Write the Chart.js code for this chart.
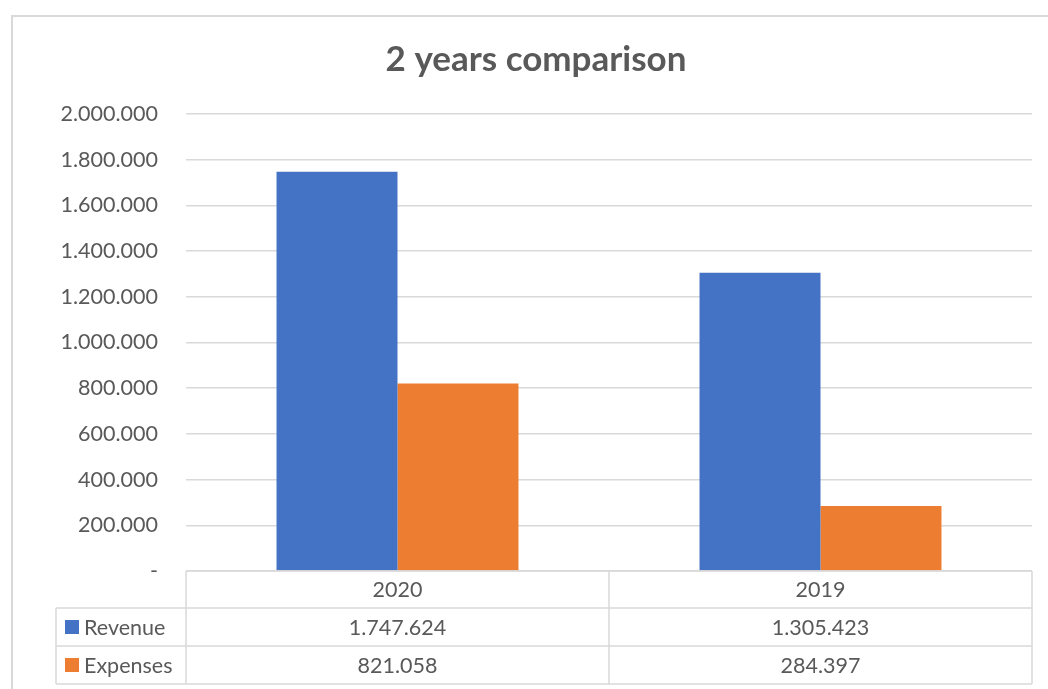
<!DOCTYPE html>
<html>
<head>
<meta charset="utf-8">
<script src="https://cdn.jsdelivr.net/npm/chart.js@4.4.1/dist/chart.umd.min.js"></script>
<style>
  html, body { margin: 0; padding: 0; background: #fff; overflow: hidden; }
  #wrap { width: 1048px; height: 689px; }
</style>
</head>
<body>
<div id="wrap"><canvas id="barChart" width="1048" height="689"></canvas></div>
<script>
"use strict";
var categories = ['2020', '2019'];
var revenue = [1747624, 1305423];
var expenses = [821058, 284397];
var seriesNames = ['Revenue', 'Expenses'];
var seriesColors = ['#4472c4', '#ed7d31'];

var FONT = 'Lato, "Open Sans", sans-serif';
var TEXT = '#595959';
var LINE = '#d9d9d9';

function fmt(v) {
    if (v === 0) return '-';
    return String(Math.round(v)).replace(/\B(?=(\d{3})+(?!\d))/g, '.');
}

/* frame around the whole chart + data table under the plot */
var tablePlugin = {
    id: 'dataTable',
    beforeDraw: function(chart) {
        var ctx = chart.ctx;
        ctx.save();
        ctx.fillStyle = '#fff';
        ctx.fillRect(0, 0, chart.width, chart.height);
        ctx.strokeStyle = LINE;
        ctx.lineWidth = 2;
        ctx.strokeRect(12, 16, chart.width + 20, chart.height + 20);
        ctx.restore();
    },
    afterDraw: function(chart) {
        var ctx = chart.ctx;
        var area = chart.chartArea;
        var xs = chart.scales.x;
        var left = area.left, right = area.right;
        var labelLeft = 56;
        var rowTops = [area.bottom, area.bottom + 37, area.bottom + 75, area.bottom + 113];
        var colEdges = [left];
        for (var i = 0; i < categories.length; i++) {
            var c = xs.getPixelForValue(i);
            colEdges.push(c + (c - colEdges[i]));
        }
        ctx.save();
        ctx.strokeStyle = LINE;
        ctx.lineWidth = 1.5;
        ctx.beginPath();
        // horizontal lines
        ctx.moveTo(left, rowTops[0]); ctx.lineTo(right, rowTops[0]);
        for (var r = 1; r < rowTops.length; r++) {
            ctx.moveTo(labelLeft, rowTops[r]); ctx.lineTo(right, rowTops[r]);
        }
        // vertical lines
        ctx.moveTo(labelLeft, rowTops[1]); ctx.lineTo(labelLeft, rowTops[3]);
        for (var e = 0; e < colEdges.length; e++) {
            ctx.moveTo(colEdges[e], rowTops[0]); ctx.lineTo(colEdges[e], rowTops[3]);
        }
        ctx.moveTo(right, rowTops[0]); ctx.lineTo(right, rowTops[3]);
        ctx.stroke();

        ctx.fillStyle = TEXT;
        ctx.font = '21.5px ' + FONT;
        ctx.textBaseline = 'middle';
        ctx.textAlign = 'center';
        var rows = [revenue, expenses];
        for (var k = 0; k < categories.length; k++) {
            var cx = xs.getPixelForValue(k);
            ctx.fillText(categories[k], cx, (rowTops[0] + rowTops[1]) / 2 + 1);
            for (var s = 0; s < rows.length; s++) {
                ctx.fillText(fmt(rows[s][k]), cx, (rowTops[s + 1] + rowTops[s + 2]) / 2 + 1);
            }
        }
        ctx.textAlign = 'left';
        for (var n = 0; n < seriesNames.length; n++) {
            var my = (rowTops[n + 1] + rowTops[n + 2]) / 2;
            ctx.fillStyle = seriesColors[n];
            ctx.fillRect(65, my - 7, 14, 14);
            ctx.fillStyle = TEXT;
            ctx.fillText(seriesNames[n], 84, my + 1);
        }
        ctx.restore();
    }
};

var data1 = {
    labels: categories,
    datasets: [{
        label: seriesNames[0],
        backgroundColor: seriesColors[0],
        data: revenue
    }, {
        label: seriesNames[1],
        backgroundColor: seriesColors[1],
        data: expenses
    }]
};

var bar = document.getElementById("barChart").getContext('2d');
var myBarChart = new Chart(bar, {
    type: 'bar',
    data: data1,
    plugins: [tablePlugin],
    options: {
        responsive: false,
        animation: false,
        layout: { padding: { left: 40, right: 16, top: 0, bottom: 118 } },
        datasets: { bar: { barPercentage: 1, categoryPercentage: 0.572 } },
        plugins: {
            legend: { display: false },
            tooltip: { enabled: false },
            title: {
                display: true,
                text: '2 years comparison',
                color: TEXT,
                font: { family: FONT, size: 35, weight: 'bold' },
                padding: { top: 39, bottom: 33 }
            }
        },
        scales: {
            x: { display: false },
            y: {
                min: 0,
                max: 2000000,
                afterFit: function(scale) { scale.width = 146; },
                border: { display: false },
                grid: { color: LINE, lineWidth: 1.5, drawTicks: false },
                ticks: {
                    stepSize: 200000,
                    padding: 28,
                    color: TEXT,
                    font: { family: FONT, size: 21.5 },
                    callback: function(v) { return fmt(v); }
                }
            }
        }
    }
});
</script>
</body>
</html>
